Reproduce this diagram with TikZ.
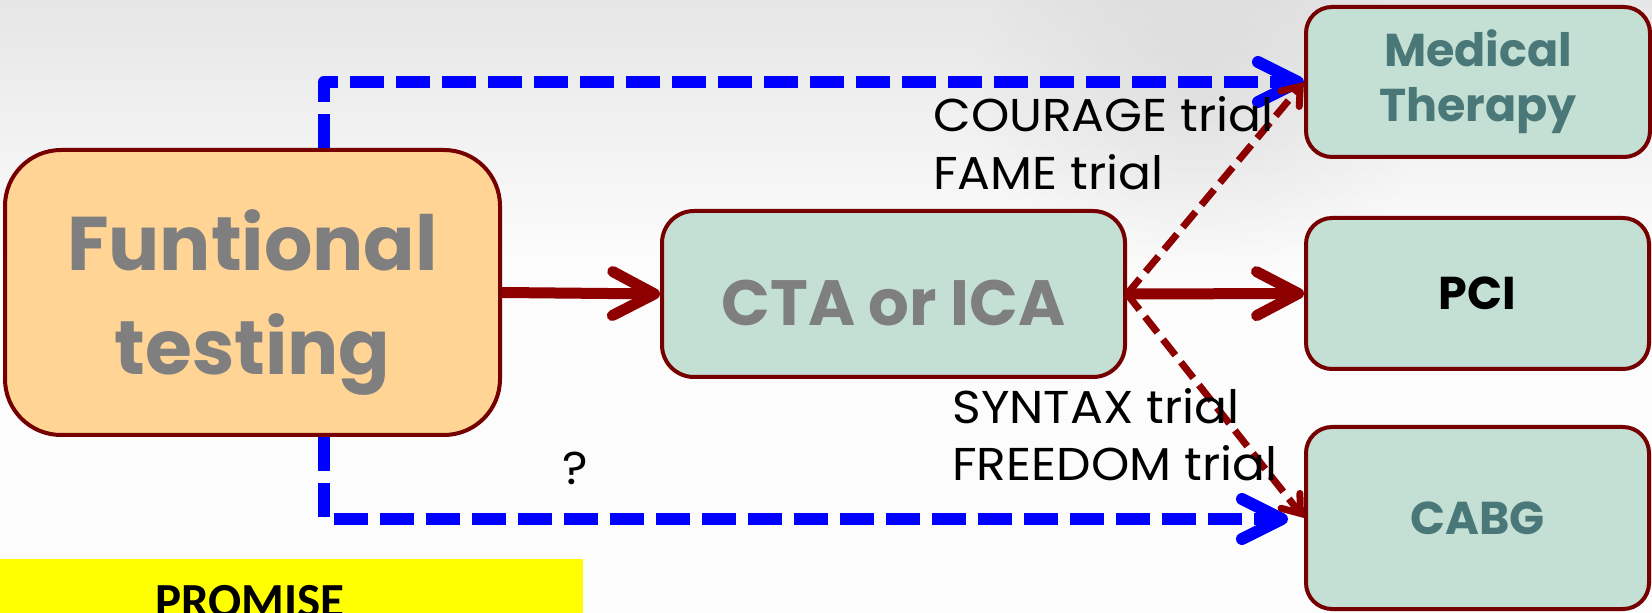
\documentclass[tikz,border=0pt]{standalone}
\usepackage{fontspec}
\usetikzlibrary{arrows.meta,fadings}
\newfontfamily\calibfont{Carlito}
\newfontfamily\gothic{Poppins}
\newfontfamily\gothicwide{Poppins}[FakeStretch=1.06]
\definecolor{boxline}{HTML}{760000}
\definecolor{redarrow}{HTML}{8E0000}
\definecolor{tealfill}{HTML}{C4E0D5}
\definecolor{orangefill}{HTML}{FFD494}
\definecolor{tealtext}{HTML}{4A7878}
\definecolor{graytext}{HTML}{7F7F7F}
\definecolor{bluearrow}{HTML}{0000FF}
\definecolor{bannerfill}{HTML}{FFFF00}
\definecolor{bgtop}{HTML}{E6E6E6}
\definecolor{bgbottom}{HTML}{FCFCFC}
\definecolor{smoke}{HTML}{8A7F7F}
\tikzfading[name=softspot, inner color=transparent!0, outer color=transparent!100]
\begin{document}
\begin{tikzpicture}[x=0.5pt,y=-0.5pt,
  box/.style={draw=boxline, line width=2pt, rounded corners=13pt, fill=tealfill,
    inner sep=0pt, align=center, font=\gothic\bfseries},
  boxtext/.style={inner sep=0pt, align=center},
  bluepath/.style={draw=bluearrow, line width=6pt, dash pattern=on 17pt off 6pt,
    line join=round, -{Straight Barb[length=20pt,width=20pt,line cap=round,line join=round]}},
  redsolid/.style={draw=redarrow, line width=5.5pt,
    -{Straight Barb[length=21pt,width=22pt,line cap=round,line join=round]}},
  reddash/.style={draw=redarrow, line width=3.5pt, dash pattern=on 10pt off 4.5pt,
    -{Straight Barb[length=8pt,width=12pt,line cap=round]}},
  trial/.style={anchor=base west, inner sep=0pt, font=\gothicwide\fontsize{23}{27}\selectfont}]
\useasboundingbox (0,0) rectangle (1652,613);
% background
\fill[bgbottom] (0,0) rectangle (1652,613);
\shade[top color=bgtop, bottom color=bgbottom] (0,0) rectangle (1652,260);
\fill[smoke, opacity=0.13, path fading=softspot] (1200,90) ellipse (230 and 200);

% boxes
\node[box, fill=orangefill, rounded corners=28pt, minimum width=247.5pt, minimum height=142.5pt] (func) at (252.5,292.5) {};
\node[boxtext, text=graytext, font=\gothic\bfseries\fontsize{38}{52}\selectfont] (functext)
  at ([yshift=-5pt]func.center) {Funtional\\testing};
\node[box, rounded corners=16pt, minimum width=231.5pt, minimum height=83pt] (cta) at (893.5,294) {};
\node[boxtext, text=graytext, font=\gothic\bfseries\fontsize{32}{38}\selectfont] (ctatext)
  at ([yshift=-4.5pt]cta.center) {CTA or ICA};
\node[box, minimum width=172pt, minimum height=75pt,
  text=tealtext, font=\gothic\bfseries\fontsize{23}{27.5}\selectfont] (med) at (1478,82) {Medical\\Therapy};
\node[box, minimum width=171.5pt, minimum height=75.5pt,
  text=black, font=\gothic\bfseries\fontsize{23}{28}\selectfont] (pci) at (1477.5,293.5) {PCI};
\node[box, minimum width=171.5pt, minimum height=91pt,
  text=tealtext, font=\gothic\bfseries\fontsize{23}{28}\selectfont] (cabg) at (1477.5,518) {CABG};

% blue dashed routes
\coordinate (topturn) at (324,82);
\coordinate (botturn) at (324,519);
\coordinate (cabgin) at ([xshift=-8pt]cabg.west);
\draw[bluepath] (topturn |- func.north) -- (topturn) -- (med.west);
\draw[bluepath] (botturn |- func.south) -- (botturn) -- (cabgin |- botturn);

% red arrows
\draw[redsolid] (func.east) -- (cta.west);
\draw[redsolid] (cta.east) -- (pci.west);
\draw[reddash] (cta.east) -- (med.west);
\draw[reddash] (cta.east) -- (cabg.west);

% trial labels
\node[trial] (courage) at (933,132) {COURAGE trial};
\node[trial] (fame) at (933,190) {FAME trial};
\node[trial] (syntax) at (952,424) {SYNTAX trial};
\node[trial] (freedom) at (952,481) {FREEDOM trial};
\node[trial] (q) at (562,485) {?};

% PROMISE banner
\fill[bannerfill] (0,559) rectangle (583,613);
\node[anchor=base, inner sep=0pt, font=\calibfont\bfseries\fontsize{24.5}{28}\selectfont] (promise) at (250,617) {PROMISE};
\end{tikzpicture}
\end{document}
